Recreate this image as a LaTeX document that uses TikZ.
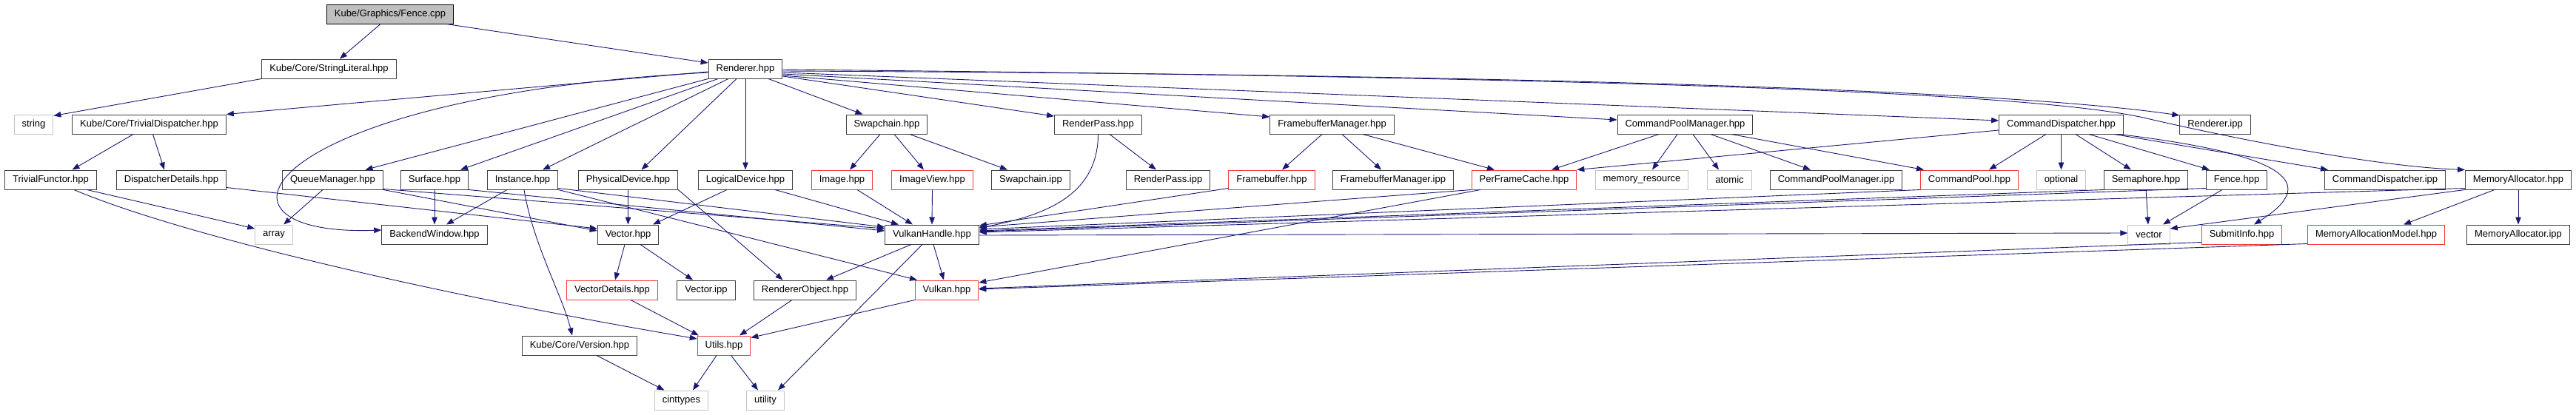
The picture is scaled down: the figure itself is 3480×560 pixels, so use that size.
\documentclass[tikz,border=0pt]{standalone}
\usepackage{fontspec}
\setmainfont{Liberation Sans}
\usetikzlibrary{arrows.meta}
\definecolor{edgeblue}{HTML}{191970}
\definecolor{frame}{HTML}{404040}
\definecolor{truncred}{HTML}{F53B3B}
\definecolor{sysgray}{HTML}{C4C4C4}
\definecolor{rootgray}{HTML}{BFBFBF}
\tikzset{file/.style={draw=frame,fill=white,line width=1pt,minimum height=26pt,inner xsep=10.5pt,inner ysep=0pt,font=\fontsize{13}{15}\selectfont},trunc/.style={file,draw=truncred},sys/.style={file,draw=sysgray},root/.style={file,draw=black,fill=rootgray},dep/.style={-{Triangle[length=10pt,width=7.5pt]},draw=edgeblue,line width=.9pt}}

\begin{document}
\begin{tikzpicture}[x=1pt,y=-1pt]
\useasboundingbox (0,0) rectangle (3480,560);

% rows of the include graph
\node[root] (fencecpp) at (527,19) {Kube/Graphics/Fence.cpp};
\node[file] (strlit) at (444.5,93) {Kube/Core/StringLiteral.hpp};
\node[file] (renderer) at (1007,93) {Renderer.hpp};
\node[sys] (string) at (45.5,168) {string};
\node[file] (trivdisp) at (201.5,168) {Kube/Core/TrivialDispatcher.hpp};
\node[file] (swapchain) at (1198,168) {Swapchain.hpp};
\node[file] (renderpass) at (1483.5,168) {RenderPass.hpp};
\node[file] (fbmgr) at (1799.5,168) {FramebufferManager.hpp};
\node[file] (cpmgr) at (2276.5,168) {CommandPoolManager.hpp};
\node[file] (cmddisp) at (2784.5,168) {CommandDispatcher.hpp};
\node[file] (rendipp) at (2992.5,168) {Renderer.ipp};
\node[file] (trivfunc) at (68.5,243) {TrivialFunctor.hpp};
\node[file] (dispdet) at (231.5,243) {DispatcherDetails.hpp};
\node[file] (queuemgr) at (449.5,243) {QueueManager.hpp};
\node[file] (surface) at (587,243) {Surface.hpp};
\node[file] (instance) at (706,243) {Instance.hpp};
\node[file] (physdev) at (848.5,243) {PhysicalDevice.hpp};
\node[file] (logdev) at (1007,243) {LogicalDevice.hpp};
\node[trunc] (image) at (1137.5,243) {Image.hpp};
\node[trunc] (imageview) at (1259.5,243) {ImageView.hpp};
\node[file] (swapipp) at (1392.5,243) {Swapchain.ipp};
\node[file] (rpipp) at (1578,243) {RenderPass.ipp};
\node[trunc] (framebuf) at (1718,243) {Framebuffer.hpp};
\node[file] (fbmipp) at (1882,243) {FramebufferManager.ipp};
\node[trunc] (perframe) at (2059,243) {PerFrameCache.hpp};
\node[sys] (memres) at (2218,243) {memory\_resource};
\node[sys] (atomic) at (2336.5,243) {atomic};
\node[file] (cpmipp) at (2480.5,243) {CommandPoolManager.ipp};
\node[trunc] (cmdpool) at (2660.5,243) {CommandPool.hpp};
\node[sys] (optional) at (2784.5,243) {optional};
\node[file] (semaphore) at (2899,243) {Semaphore.hpp};
\node[file] (fencehpp) at (3021.5,243) {Fence.hpp};
\node[file] (cdipp) at (3222,243) {CommandDispatcher.ipp};
\node[file] (memalloc) at (3402,243) {MemoryAllocator.hpp};
\node[sys] (array) at (370,317) {array};
\node[file] (backwin) at (587,317) {BackendWindow.hpp};
\node[file] (vectorhpp) at (848.5,317) {Vector.hpp};
\node[file] (vkhandle) at (1259,317) {VulkanHandle.hpp};
\node[sys] (stdvector) at (2903,317) {vector};
\node[trunc] (submit) at (3028.5,317) {SubmitInfo.hpp};
\node[trunc] (memmodel) at (3210,317) {MemoryAllocationModel.hpp};
\node[file] (memipp) at (3402,317) {MemoryAllocator.ipp};
\node[trunc] (vecdet) at (827,392) {VectorDetails.hpp};
\node[file] (vecipp) at (954,392) {Vector.ipp};
\node[file] (rendobj) at (1087.5,392) {RendererObject.hpp};
\node[trunc] (vulkan) at (1279,392) {Vulkan.hpp};
\node[file] (version) at (783,467) {Kube/Core/Version.hpp};
\node[trunc] (utils) at (978,467) {Utils.hpp};
\node[sys] (cinttypes) at (920.5,541) {cinttypes};
\node[sys] (utility) at (1034,541) {utility};

% includes
\draw[dep] ([xshift=-13pt]fencecpp.south)--([xshift=14.5pt]strlit.north);
\draw[dep] ([xshift=76pt]fencecpp.south)--([yshift=8pt]renderer.west);
\draw[dep] (strlit.south west)--([yshift=-2pt]string.north east);
\draw[dep] ([yshift=-4pt]renderer.west)--(trivdisp.north east);
\draw[dep] ([yshift=-5pt]renderer.west) .. controls (350,130) and (250,320) .. ([yshift=6pt]backwin.west);
\draw[dep] (renderer.south west)--([xshift=44pt]queuemgr.north);
\draw[dep] ([xshift=-37pt]renderer.south)--([xshift=35pt]surface.north);
\draw[dep] ([xshift=-23pt]renderer.south)--([xshift=27pt]instance.north);
\draw[dep] ([xshift=-12pt]renderer.south)--([xshift=18pt]physdev.north);
\draw[dep] (renderer.south)--(logdev.north);
\draw[dep] ([xshift=31pt]renderer.south)--([xshift=-32.5pt]swapchain.north);
\draw[dep] ([yshift=-10pt]renderer.east)--([yshift=11pt]renderpass.west);
\draw[dep] ([yshift=-9pt]renderer.east)--([yshift=10pt]fbmgr.west);
\draw[dep] ([yshift=-7pt]renderer.east)--([yshift=6pt]cpmgr.west);
\draw[dep] ([yshift=-5pt]renderer.east)--([yshift=5pt]cmddisp.west);
\draw[dep] ([yshift=-3pt]renderer.east) .. controls (2000,100) and (2700,120) .. ([yshift=12pt]rendipp.west);
\draw[dep] ([yshift=-1pt]renderer.east) .. controls (2200,105) and (2750,125) .. (2900,160) .. controls (2990,181) and (3200,225) .. (memalloc.north west);
\draw[dep] ([xshift=-21.5pt]trivdisp.south)--([xshift=29pt]trivfunc.north);
\draw[dep] ([xshift=5pt]trivdisp.south)--([xshift=-9.5pt]dispdet.north);
\draw[dep] ([xshift=49pt]trivfunc.south)--([yshift=8pt]array.west);
\draw[dep] ([xshift=31.5pt]trivfunc.south) .. controls (250,320) and (600,400) .. ([yshift=9pt]utils.west);
\draw[dep] ([yshift=3pt]dispdet.south east)--([yshift=8pt]vectorhpp.west);
\draw[dep] ([xshift=-13.5pt]queuemgr.south)--([xshift=13pt]array.north);
\draw[dep] (queuemgr.south east)--([yshift=5pt]vectorhpp.west);
\draw[dep] ([yshift=1pt]queuemgr.south east)--([yshift=8pt]vkhandle.west);
\draw[dep] (surface.south)--(backwin.north);
\draw[dep] (surface.south east)--([yshift=5pt]vkhandle.west);
\draw[dep] ([xshift=-21pt]instance.south)--([xshift=16pt]backwin.north);
\draw[dep] ([xshift=2pt]instance.south) .. controls (720,330) and (760,400) .. ([xshift=-10pt]version.north);
\draw[dep] ([yshift=2pt]instance.south east)--([yshift=10pt]vkhandle.west);
\draw[dep] (instance.south east)--([xshift=-40pt]vulkan.north);
\draw[dep] (physdev.south)--(vectorhpp.north);
\draw[dep] (physdev.south east)--([xshift=-30pt]rendobj.north);
\draw[dep] ([xshift=-25pt]logdev.south)--([xshift=33.5pt]vectorhpp.north);
\draw[dep] ([xshift=40pt]logdev.south)--([xshift=-45pt]vkhandle.north);
\draw[dep] ([xshift=-9pt]swapchain.south)--([xshift=10.5pt]image.north);
\draw[dep] ([xshift=10pt]swapchain.south)--([xshift=-11.5pt]imageview.north);
\draw[dep] ([xshift=31pt]swapchain.south)--([xshift=-31.5pt]swapipp.north);
\draw[dep] ([xshift=20.5pt]image.south)--([xshift=-26pt]vkhandle.north);
\draw[dep] (imageview.south)--(vkhandle.north);
\draw[dep] ([xshift=15.5pt]renderpass.south)--([xshift=-16pt]rpipp.north);
\draw[dep] (renderpass.south) .. controls (1483,260) and (1420,290) .. ([yshift=9pt]vkhandle.east);
\draw[dep] ([xshift=-13.5pt]fbmgr.south)--([xshift=14pt]framebuf.north);
\draw[dep] ([xshift=13.5pt]fbmgr.south)--([xshift=-16pt]fbmipp.north);
\draw[dep] ([xshift=41.5pt]fbmgr.south)--([xshift=-40pt]perframe.north);
\draw[dep] ([yshift=2pt]framebuf.south west)--([yshift=12pt]vkhandle.east);
\draw[dep] (perframe.south west)--([yshift=10pt]vkhandle.east);
\draw[dep] ([xshift=-59pt]perframe.south)--([yshift=10pt]vulkan.east);
\draw[dep] ([xshift=-35.5pt]cpmgr.south)--([xshift=37pt]perframe.north);
\draw[dep] ([xshift=-10.5pt]cpmgr.south)--([xshift=14pt]memres.north);
\draw[dep] ([xshift=10.5pt]cpmgr.south)--([xshift=-14.5pt]atomic.north);
\draw[dep] ([xshift=34.5pt]cpmgr.south)--([xshift=-34.5pt]cpmipp.north);
\draw[dep] ([xshift=62.5pt]cpmgr.south)--([xshift=-61.5pt]cmdpool.north);
\draw[dep] (cmdpool.south west)--([yshift=7pt]vkhandle.east);
\draw[dep] ([yshift=-8pt]cmddisp.west)--(perframe.north east);
\draw[dep] ([xshift=-20.5pt]cmddisp.south)--([xshift=26.5pt]cmdpool.north);
\draw[dep] (cmddisp.south)--(optional.north);
\draw[dep] ([xshift=19.5pt]cmddisp.south)--([xshift=-20pt]semaphore.north);
\draw[dep] ([xshift=37.5pt]cmddisp.south)--([xshift=-36.5pt]fencehpp.north);
\draw[dep] ([xshift=71.5pt]cmddisp.south)--([xshift=-77pt]cdipp.north);
\draw[dep] ([xshift=-6pt]cmddisp.south east) .. controls (3100,210) and (3130,250) .. ([xshift=16.5pt]submit.north);
\draw[dep] (semaphore.south)--([xshift=-1pt]stdvector.north);
\draw[dep] (semaphore.south west)--([yshift=5pt]vkhandle.east);
\draw[dep] ([xshift=-19.5pt]fencehpp.south)--([xshift=19pt]stdvector.north);
\draw[dep] ([yshift=2pt]fencehpp.south west)--([yshift=4pt]vkhandle.east);
\draw[dep] (memalloc.south west)--([yshift=8pt]stdvector.east);
\draw[dep] ([yshift=2pt]memalloc.south west)--([yshift=3pt]vkhandle.east);
\draw[dep] ([xshift=-32pt]memalloc.south)--([xshift=37pt]memmodel.north);
\draw[dep] (memalloc.south)--(memipp.north);
\draw[dep] ([yshift=3pt]submit.south west)--([yshift=2pt]vulkan.east);
\draw[dep] ([yshift=1pt]memmodel.south west)--([yshift=1pt]vulkan.east);
\draw[dep] ([xshift=2pt]vkhandle.south)--([xshift=-4pt]vulkan.north);
\draw[dep] ([xshift=-28pt]vkhandle.south)--([xshift=28.5pt]rendobj.north);
\draw[dep] ([xshift=-13pt]vkhandle.south)--([xshift=17pt]utility.north);
\draw[dep] ([yshift=-1pt]vkhandle.east)--([yshift=2pt]stdvector.west);
\draw[dep] ([xshift=-4.5pt]vectorhpp.south)--([xshift=4pt]vecdet.north);
\draw[dep] ([xshift=16.5pt]vectorhpp.south)--([xshift=-18pt]vecipp.north);
\draw[dep] ([xshift=25pt]vecdet.south)--([xshift=-34pt]utils.north);
\draw[dep] ([xshift=-17.5pt]rendobj.south)--([xshift=21pt]utils.north);
\draw[dep] (vulkan.south west)--([yshift=-3pt]utils.north east);
\draw[dep] ([xshift=-10pt]utils.south)--([xshift=15.5pt]cinttypes.north);
\draw[dep] ([xshift=9.6pt]utils.south)--([xshift=-10pt]utility.north);
\draw[dep] ([xshift=23pt]version.south)--([xshift=-23pt]cinttypes.north);
\end{tikzpicture}
\end{document}
